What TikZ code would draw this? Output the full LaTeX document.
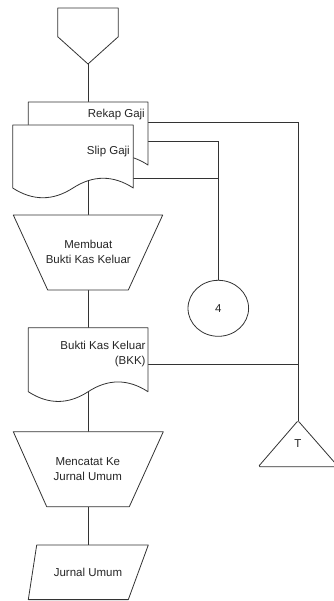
\documentclass[tikz,border=0pt]{standalone}
\usepackage{fontspec}
\setmainfont{Liberation Sans}
\usetikzlibrary{positioning,shapes.geometric}

% document symbol: x1, x2, top, wave level
\newcommand{\flowdoc}[4]{%
  \draw[shp] (#1,#3) -- (#2,#3) -- (#2,#4)
    .. controls ({#2-(#2-#1)/6},{#4-13}) and ({(#1+#2)/2+(#2-#1)/6},{#4-13}) .. ({(#1+#2)/2},#4)
    .. controls ({(#1+#2)/2-(#2-#1)/6},{#4+13}) and ({#1+(#2-#1)/6},{#4+13}) .. (#1,#4) -- cycle;}

\begin{document}
\begin{tikzpicture}[
    x=1pt, y=-1pt,
    shp/.style={draw=black!80, fill=white, line width=0.8pt, line join=round},
    wire/.style={draw=black!80, line width=0.8pt},
    lbl/.style={font=\fontsize{11.5}{14.5}\selectfont, text=black!85, inner sep=0pt},
]
\useasboundingbox (0,0) rectangle (333,601);
% connection points
\coordinate (inTip) at (88,64);
\coordinate (rekapTop) at (88,102);
\coordinate (rekapR1) at (148,122);
\coordinate (rekapR2) at (148,141);
\coordinate (slipR) at (133.3,178.3);
\coordinate (slipBot) at (88,181);
\coordinate (p1Top) at (88,215);
\coordinate (p1Bot) at (88,290);
\coordinate (bkkTop) at (88,327.7);
\coordinate (bkkR) at (148,364);
\coordinate (bkkBot) at (88,391.7);
\coordinate (p2Top) at (88,431.7);
\coordinate (p2Bot) at (88,506.7);
\coordinate (juTop) at (88,545);
\coordinate (tApex) at (298,420.7);
\node[ellipse, shp, minimum width=60.6, minimum height=56, lbl] (c4) at (218.3,308.3) {4};

% lines
\foreach \a/\b in {inTip/rekapTop, slipBot/p1Top, p1Bot/bkkTop, bkkBot/p2Top, p2Bot/juTop} {
  \draw[wire] (\a) -- (\b);
}
\draw[wire] (rekapR1) -| (tApex);
\draw[wire] (rekapR2) -| (c4.north);
\draw[wire] (slipR) -- (slipR -| c4.north);
\draw[wire] (bkkR) -- (bkkR -| tApex);

% shapes
\draw[shp] (57.7,8) -- (118.3,8) -- (118.3,36.7) -- (inTip) -- (57.7,36.7) -- cycle;
\flowdoc{28.3}{148}{102}{165}
\flowdoc{12.7}{133.3}{125}{188}
\draw[shp] (13.3,215) -- (162.7,215) -- (128.3,290) -- (47.7,290) -- cycle;
\flowdoc{28.3}{148}{327.7}{391.7}
\draw[shp] (13.3,431.7) -- (163.3,431.7) -- (129.3,506.7) -- (46.7,506.7) -- cycle;
\draw[shp] (36.7,545) -- (148.3,545) -- (128.3,599.6) -- (28.3,599.6) -- cycle;
\draw[shp, rounded corners=1.5] (tApex) -- (338.3,466.7) -- (258.3,466.7) -- cycle;

% texts
\node[lbl, anchor=east] (rekapTxt) at (145,115) {Rekap Gaji};
\node[lbl, anchor=east] (slipTxt) at (130,152) {Slip Gaji};
\node[lbl, align=center] (p1Txt) at (88.3,252) {Membuat\\Bukti Kas Keluar};
\node[lbl, align=right, anchor=east] (bkkTxt) at (145.7,354) {Bukti Kas Keluar\\(BKK)};
\node[lbl, align=center] (p2Txt) at (87.8,469) {Mencatat Ke\\Jurnal Umum};
\node[lbl] (juTxt) at (88,572.7) {Jurnal Umum};
\node[lbl] (tTxt) at (298,443.3) {T};
\end{tikzpicture}
\end{document}
